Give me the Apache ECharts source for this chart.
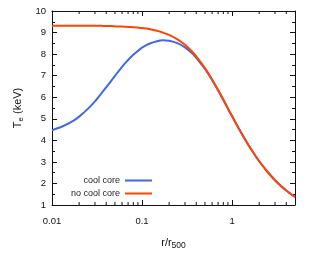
<!DOCTYPE html>
<html>
<head>
<meta charset="utf-8">
<script src="https://cdn.jsdelivr.net/npm/echarts@6/dist/echarts.min.js"></script>
<style>html,body{margin:0;padding:0;background:#fff}#c{width:320px;height:260px}</style>
</head>
<body>
<div id="c"></div>
<script>
// r / r500 sample positions
const radius = [0.01, 0.013, 0.017, 0.02, 0.025, 0.03, 0.035, 0.04, 0.045, 0.05, 0.055, 0.06, 0.065, 0.07, 0.08, 0.09, 0.1, 0.12, 0.15, 0.17, 0.2, 0.25, 0.3, 0.35, 0.4, 0.5, 0.6, 0.7, 0.8, 0.9, 1.0, 1.2, 1.5, 1.8, 2.0, 2.5, 3.0, 3.5, 4.0, 4.5, 5.0];
// T_e (keV), cool core profile
const coolCore = [4.47, 4.64, 4.89, 5.10, 5.46, 5.81, 6.15, 6.46, 6.74, 6.99, 7.21, 7.41, 7.58, 7.73, 7.97, 8.15, 8.30, 8.48, 8.61, 8.64, 8.62, 8.50, 8.31, 8.08, 7.83, 7.31, 6.80, 6.31, 5.87, 5.47, 5.12, 4.51, 3.82, 3.31, 3.03, 2.52, 2.15, 1.88, 1.67, 1.51, 1.37];
// T_e (keV), no cool core profile
const noCoolCore = [9.32, 9.32, 9.32, 9.32, 9.31, 9.31, 9.31, 9.30, 9.30, 9.29, 9.28, 9.28, 9.27, 9.26, 9.25, 9.23, 9.21, 9.16, 9.07, 9.00, 8.89, 8.67, 8.43, 8.17, 7.90, 7.35, 6.82, 6.33, 5.89, 5.48, 5.13, 4.52, 3.82, 3.31, 3.03, 2.52, 2.15, 1.88, 1.67, 1.51, 1.37];
// minor tick positions on the log x axis
const xMinorTicks = [0.02, 0.03, 0.04, 0.05, 0.06, 0.07, 0.08, 0.09, 0.2, 0.3, 0.4, 0.5, 0.6, 0.7, 0.8, 0.9, 2, 3, 4];
const seriesNames = ['cool core', 'no cool core'];
const xTickLabels = { 0.01: '0.01', 0.1: '0.1', 1: '1' };

const font = 'Liberation Sans, Arial, Helvetica, sans-serif';
const ink = '#111';
const zip = (xs, ys) => xs.map((x, i) => [x, ys[i]]);

const chart = echarts.init(document.getElementById('c'), null, { renderer: 'canvas' });

const baseX = {
  type: 'log', logBase: 10, min: 0.01, max: 5,
  axisLine: { show: true, lineStyle: { color: ink, width: 1 } },
  axisTick: { show: true, inside: true, length: 5, lineStyle: { color: ink } },
  splitLine: { show: false },
  minorTick: { show: false }
};
const baseY = {
  type: 'value', min: 1, max: 10, interval: 1,
  axisLine: { show: true, lineStyle: { color: ink, width: 1 } },
  axisTick: { show: true, inside: true, length: 5, lineStyle: { color: ink } },
  minorTick: { show: true, splitNumber: 2, length: 3, lineStyle: { color: ink } },
  splitLine: { show: false }
};

chart.setOption({
  backgroundColor: '#fff',
  animation: false,
  textStyle: { fontFamily: font },
  grid: { left: 52, right: 25, top: 11, bottom: 55, containLabel: false },
  xAxis: [
    Object.assign({}, baseX, {
      position: 'bottom',
      axisLabel: {
        color: ink, fontSize: 9.5, fontFamily: font, margin: 11,
        showMaxLabel: false,
        formatter: v => xTickLabels[+v.toPrecision(3)] || ''
      },
      name: '{a|r/r}{s|500}',
      nameLocation: 'middle',
      nameGap: 30,
      nameTextStyle: {
        rich: {
          a: { fontSize: 11, color: ink, fontFamily: font },
          s: { fontSize: 8.5, color: ink, fontFamily: font, padding: [6, 0, 0, 0] }
        }
      }
    }),
    Object.assign({}, baseX, {
      position: 'top',
      axisLabel: { show: false }
    })
  ],
  yAxis: [
    Object.assign({}, baseY, {
      position: 'left',
      axisLabel: { color: ink, fontSize: 9.5, fontFamily: font, margin: 6 },
      name: '{a|T}{s|e}{a| (keV)}',
      nameLocation: 'middle',
      nameGap: 22,
      nameRotate: 90,
      nameTextStyle: {
        rich: {
          a: { fontSize: 11, color: ink, fontFamily: font },
          s: { fontSize: 8, color: ink, fontFamily: font, padding: [6, 0, 0, 0] }
        }
      }
    }),
    Object.assign({}, baseY, {
      position: 'right',
      axisLabel: { show: false }
    })
  ],
  legend: [
    {
      data: [seriesNames[0]], orient: 'vertical', align: 'right',
      right: 168, top: 176, padding: 0,
      icon: 'rect', itemWidth: 27, itemHeight: 2,
      textStyle: { fontSize: 9, color: '#222', fontFamily: font },
      selectedMode: false
    },
    {
      data: [seriesNames[1]], orient: 'vertical', align: 'right',
      right: 168, top: 189, padding: 0,
      icon: 'rect', itemWidth: 27, itemHeight: 2,
      textStyle: { fontSize: 9, color: '#222', fontFamily: font },
      selectedMode: false
    }
  ],
  series: [
    {
      name: seriesNames[0], type: 'line', xAxisIndex: 0, yAxisIndex: 0,
      data: zip(radius, coolCore), showSymbol: false, smooth: 0.3,
      color: '#4169e1', lineStyle: { width: 2, color: '#4169e1' }
    },
    {
      name: seriesNames[1], type: 'line', xAxisIndex: 0, yAxisIndex: 0,
      data: zip(radius, noCoolCore), showSymbol: false, smooth: 0.3,
      color: '#ff4500', lineStyle: { width: 2, color: '#ff4500' }
    },
    {
      name: 'minor', type: 'custom', xAxisIndex: 0, yAxisIndex: 0, silent: true,
      data: xMinorTicks.map(v => [v]),
      encode: { x: 0 },
      renderItem: function (params, api) {
        const v = api.value(0);
        const b = api.coord([v, 1]);
        const t = api.coord([v, 10]);
        return {
          type: 'group',
          children: [
            { type: 'line', shape: { x1: b[0], y1: b[1], x2: b[0], y2: b[1] - 3 }, style: { stroke: ink, lineWidth: 1 } },
            { type: 'line', shape: { x1: t[0], y1: t[1], x2: t[0], y2: t[1] + 3 }, style: { stroke: ink, lineWidth: 1 } }
          ]
        };
      }
    }
  ]
});
</script>
</body>
</html>
